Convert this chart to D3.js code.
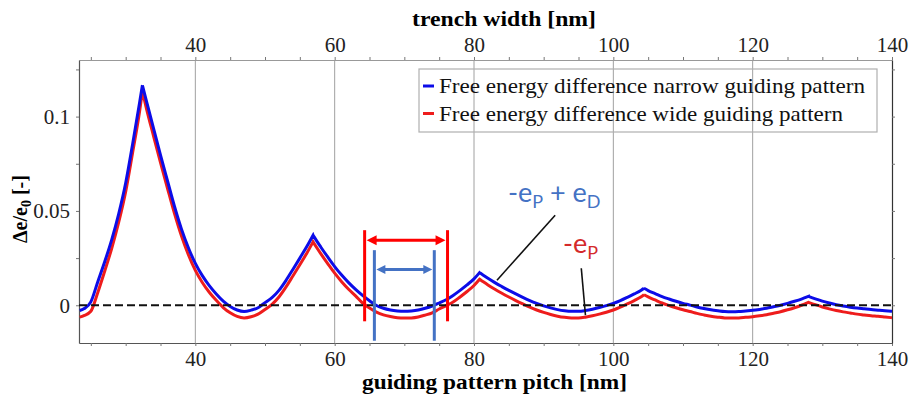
<!DOCTYPE html>
<html><head><meta charset="utf-8">
<script src="https://cdn.jsdelivr.net/npm/d3@7"></script>
<style>
html,body{margin:0;padding:0;background:#fff;}
svg{display:block;}
</style></head>
<body>
<svg id="chart" width="913" height="395"></svg>
<script>
// ---------- data ----------
const pitch = [23.4,24,25,26,27,28,29,30,31,32,32.4,
  33,34,35,36,37,38,39,40,41,42,43,44,45,46,47,48,49,50,51,52,53,54,55,56,56.9,
  57,58,59,60,61,62,63,64,65,66,67,68,69,70,71,72,73,74,75,76,77,78,79,80,80.8,
  81,82,83,84,85,86,87,88,89,90,91,92,93,94,95,96,97,98,99,100,101,102,103,104,104.4,
  105,106,107,108,109,110,111,112,113,114,115,116,117,118,119,120,121,122,123,124,125,126,127,128,
  129,130,131,132,133,134,135,136,137,138,139,140];
const narrowValues = [-0.0028,-0.0019,0.0018,0.0125,0.0232,0.0348,0.0485,0.0648,0.0855,0.1075,0.1166,
  0.108,0.0937,0.0796,0.066,0.0525,0.0405,0.0305,0.0222,0.0157,0.0104,0.006,0.0022,-0.0006,-0.0025,-0.0033,-0.0026,-0.0013,0.0014,0.004,0.0079,0.0131,0.019,0.025,0.0311,0.0371,
  0.0365,0.0309,0.0256,0.0205,0.016,0.012,0.0084,0.0052,0.0024,-0.0001,-0.0016,-0.0025,-0.003,-0.0032,-0.003,-0.0025,-0.0016,-0.0004,0.0012,0.0029,0.0052,0.0079,0.0108,0.014,0.0173,
  0.0168,0.0143,0.012,0.0099,0.0079,0.006,0.0042,0.0025,0.001,-0.0003,-0.0014,-0.0023,-0.0029,-0.0032,-0.0032,-0.0028,-0.0021,-0.0012,-0.0002,0.001,0.0025,0.0042,0.006,0.008,0.009,
  0.0078,0.0062,0.0046,0.0033,0.0021,0.001,0.0001,-0.0009,-0.0017,-0.0024,-0.0029,-0.0033,-0.0034,-0.0033,-0.003,-0.0027,-0.0022,-0.0016,-0.0008,0.0,0.001,0.0021,0.0033,0.0047,
  0.0034,0.0022,0.0012,0.0003,-0.0004,-0.001,-0.0015,-0.0019,-0.0023,-0.0026,-0.0029,-0.0032];
const wideValues = [-0.0063,-0.0055,-0.0032,0.0068,0.0182,0.0302,0.044,0.0602,0.081,0.1028,0.1135,
  0.104,0.0897,0.0756,0.062,0.0487,0.0368,0.0268,0.0185,0.0121,0.0069,0.0026,-0.0012,-0.004,-0.0059,-0.0067,-0.0061,-0.0047,-0.0022,0.0005,0.0044,0.0096,0.0155,0.0215,0.0276,0.0336,
  0.033,0.0274,0.0221,0.017,0.0125,0.0085,0.005,0.0012,-0.0014,-0.0036,-0.0051,-0.006,-0.0066,-0.0068,-0.0067,-0.0062,-0.0052,-0.004,-0.002,-0.0002,0.0017,0.0044,0.0073,0.0105,0.0138,
  0.0133,0.0108,0.0085,0.0064,0.0044,0.0025,0.0007,-0.001,-0.0025,-0.0038,-0.0049,-0.0058,-0.0064,-0.0067,-0.0067,-0.0063,-0.0056,-0.0047,-0.0037,-0.0025,-0.001,0.0007,0.0025,0.0045,0.0056,
  0.0044,0.0028,0.0012,-0.0001,-0.0013,-0.0024,-0.0033,-0.0043,-0.0051,-0.0058,-0.0063,-0.0067,-0.0068,-0.0067,-0.0064,-0.0061,-0.0056,-0.005,-0.0042,-0.0034,-0.0024,-0.0013,0.0,0.0016,
  0.0003,-0.0009,-0.0019,-0.0028,-0.0035,-0.0041,-0.0047,-0.0051,-0.0055,-0.0058,-0.0062,-0.0066];
const seriesNames = ["Free energy difference narrow guiding pattern","Free energy difference wide guiding pattern"];
const xTicks = [25,30,35,40,45,50,55,60,65,70,75,80,85,90,95,100,105,110,115,120,125,130,135,140];
const xLabelTicks = [40,60,80,100,120,140];
const yTicks = [0,0.025,0.05,0.075,0.1,0.125];
const yLabelTicks = [0,0.05,0.1];
const gridX = [40,60,80,100,120];
const redWindow = [64.3,76.2];   // zero crossings of wide pattern
const blueWindow = [65.7,74.3];  // zero crossings of narrow pattern

// ---------- layout ----------
const svg = d3.select("#chart");
const L=79,R=892,T=60,B=343;
const x = d3.scaleLinear().domain([23.3,140]).range([L,R]);
const y = d3.scaleLinear().domain([-0.02,0.13]).range([B,T]);
const serif = "'Liberation Serif','Times New Roman',serif";
const blue="#0c0ce8", red="#ee1c1c", annBlue="#4472c4", annRed="#ff0000";

// grid
svg.append("g").selectAll("line").data(gridX).join("line")
  .attr("x1",d=>x(d)).attr("x2",d=>x(d)).attr("y1",T).attr("y2",B)
  .attr("stroke","#a0a0a0").attr("stroke-width",1);

// axes
function styleAxis(g, col){
  g.select(".domain").attr("stroke",col).attr("stroke-width",1.2);
  g.selectAll(".tick line").attr("stroke","#777");
  g.selectAll(".tick text").attr("fill","#222").style("font-family",serif).style("font-size","21px");
}
const fmtX = d=> xLabelTicks.includes(d)?String(d):"";
const fmtY = d=> yLabelTicks.some(v=>Math.abs(v-d)<1e-9)? (d===0?"0":String(+d.toFixed(2))):"";
svg.append("g").attr("transform",`translate(0,${B})`)
  .call(d3.axisBottom(x).tickValues(xTicks).tickSize(3).tickSizeOuter(0).tickPadding(5).tickFormat(fmtX))
  .call(g=>styleAxis(g,"#555"));
svg.append("g").attr("transform",`translate(0,${T})`)
  .call(d3.axisTop(x).tickValues(xTicks).tickSize(3).tickSizeOuter(0).tickPadding(5).tickFormat(fmtX))
  .call(g=>styleAxis(g,"#999"));
svg.append("g").attr("transform",`translate(${L},0)`)
  .call(d3.axisLeft(y).tickValues(yTicks).tickSize(3).tickSizeOuter(0).tickPadding(6).tickFormat(fmtY))
  .call(g=>styleAxis(g,"#555"));
svg.append("g").attr("transform",`translate(${R},0)`)
  .call(d3.axisRight(y).tickValues(yTicks).tickSize(3).tickSizeOuter(0).tickFormat(()=> ""))
  .call(g=>styleAxis(g,"#333"));

// curves: smooth between peaks, sharp cusps at peaks
svg.append("clipPath").attr("id","clip").append("rect")
  .attr("x",L).attr("y",T).attr("width",R-L).attr("height",B-T);
function cuspPath(vals){
  const pts = pitch.map((p,i)=>[p,vals[i]]);
  const cuts=[0];
  for(let i=1;i<pts.length-1;i++) if(vals[i]>vals[i-1] && vals[i]>vals[i+1]) cuts.push(i);
  cuts.push(pts.length-1);
  const ln = d3.line().x(d=>x(d[0])).y(d=>y(d[1])).curve(d3.curveMonotoneX);
  let d="";
  for(let k=0;k<cuts.length-1;k++){
    const seg = ln(pts.slice(cuts[k],cuts[k+1]+1));
    d += (k===0? seg : seg.replace(/^M[^CL]*/, "L"+x(pts[cuts[k]][0])+","+y(pts[cuts[k]][1])));
  }
  return d;
}
svg.append("path").attr("d",cuspPath(wideValues)).attr("fill","none").attr("stroke",red)
  .attr("stroke-width",3).attr("stroke-linejoin","miter").attr("clip-path","url(#clip)");
svg.append("path").attr("d",cuspPath(narrowValues)).attr("fill","none").attr("stroke",blue)
  .attr("stroke-width",3).attr("stroke-linejoin","miter").attr("clip-path","url(#clip)");

// zero line
svg.append("line").attr("x1",L).attr("x2",R).attr("y1",y(0)).attr("y2",y(0))
  .attr("stroke","#111").attr("stroke-width",2).attr("stroke-dasharray","8,4");

// window annotations
function vline(xv,y1,y2,col){
  svg.append("line").attr("x1",x(xv)).attr("x2",x(xv)).attr("y1",y(y1)).attr("y2",y(y2))
    .attr("stroke",col).attr("stroke-width",3);
}
function dblArrow(x1,x2,yv,col,hl,hw){
  const a=x(x1)+2, b=x(x2)-2, yy=y(yv);
  svg.append("line").attr("x1",a+hl-1).attr("x2",b-hl+1).attr("y1",yy).attr("y2",yy)
    .attr("stroke",col).attr("stroke-width",3);
  svg.append("path").attr("d",`M${a},${yy}L${a+hl},${yy-hw}L${a+hl},${yy+hw}Z`).attr("fill",col);
  svg.append("path").attr("d",`M${b},${yy}L${b-hl},${yy-hw}L${b-hl},${yy+hw}Z`).attr("fill",col);
}
vline(redWindow[0],0.0398,-0.0085,annRed);
vline(redWindow[1],0.0398,-0.0085,annRed);
dblArrow(redWindow[0],redWindow[1],0.0345,annRed,10,5);
vline(blueWindow[0],0.0292,-0.0188,annBlue);
vline(blueWindow[1],0.0292,-0.0188,annBlue);
dblArrow(blueWindow[0],blueWindow[1],0.019,annBlue,9,4.5);

// leader lines
svg.append("line").attr("x1",x(91.65)).attr("y1",y(0.0477)).attr("x2",x(83.3)).attr("y2",y(0.0133))
  .attr("stroke","#111").attr("stroke-width",1.6);
svg.append("line").attr("x1",x(95.4)).attr("y1",y(0.0196)).attr("x2",x(96.0)).attr("y2",y(-0.0053))
  .attr("stroke","#111").attr("stroke-width",1.6);

// formula labels
const sans = "Lato,'Open Sans',sans-serif";
const t1 = svg.append("text").attr("x",508).attr("y",202).attr("fill",annBlue)
  .style("font-family",sans).style("font-size","27px");
t1.append("tspan").text("-e");
t1.append("tspan").attr("dy",6).style("font-size","18px").text("P");
t1.append("tspan").attr("dy",-6).text(" + e");
t1.append("tspan").attr("dy",6).style("font-size","18px").text("D");
const t2 = svg.append("text").attr("x",563).attr("y",253).attr("fill","#d42a2a")
  .style("font-family",sans).style("font-size","27px");
t2.append("tspan").text("-e");
t2.append("tspan").attr("dy",6).style("font-size","18px").text("P");

// legend
svg.append("rect").attr("x",419).attr("y",69).attr("width",458).attr("height",63)
  .attr("fill","none").attr("stroke","#b0b0b0").attr("stroke-width",1.2);
const legLen=[426,404];
[blue,red].forEach((c,i)=>{
  const yy = 86+i*27.5;
  svg.append("line").attr("x1",423).attr("x2",434).attr("y1",yy).attr("y2",yy).attr("stroke",c).attr("stroke-width",3);
  svg.append("text").attr("x",439).attr("y",93+i*27.5).text(seriesNames[i])
    .attr("textLength",legLen[i]).attr("lengthAdjust","spacingAndGlyphs")
    .style("font-family",serif).style("font-size","21.5px").attr("fill","#111");
});

// axis titles
svg.append("text").attr("x",504).attr("y",26).attr("text-anchor","middle")
  .attr("textLength",184).attr("lengthAdjust","spacingAndGlyphs")
  .style("font-family",serif).style("font-size","21px").style("font-weight","bold").text("trench width [nm]");
svg.append("text").attr("x",494.5).attr("y",389).attr("text-anchor","middle")
  .attr("textLength",265).attr("lengthAdjust","spacingAndGlyphs")
  .style("font-family",serif).style("font-size","20px").style("font-weight","bold").text("guiding pattern pitch [nm]");
const yt = svg.append("text").attr("transform","translate(27,209) rotate(-90)").attr("text-anchor","middle")
  .style("font-family",serif).style("font-size","20px").style("font-weight","bold");
yt.append("tspan").text("Δe/e");
yt.append("tspan").attr("dy",4).style("font-size","14px").text("0");
yt.append("tspan").attr("dy",-4).text(" [-]");
</script>
</body></html>
